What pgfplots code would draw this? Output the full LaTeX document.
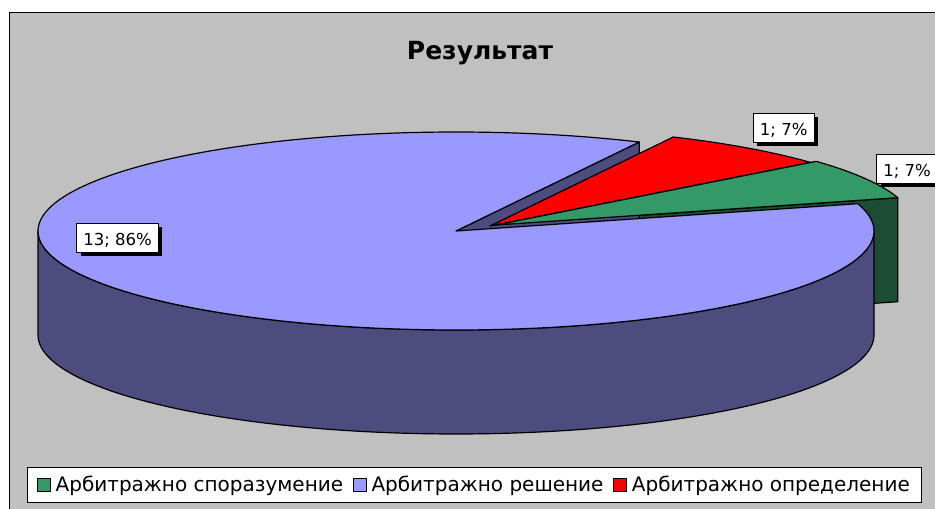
\documentclass[border=0pt]{standalone}
\usepackage{fontspec}
\setmainfont{DejaVu Sans}
\usepackage{pgfplots}
\usepackage{pgfplotstable}
\pgfplotsset{compat=1.18}
\usetikzlibrary{shadows}
\definecolor{bggray}{RGB}{192,192,192}
\definecolor{btop}{RGB}{153,153,255}
\definecolor{bside}{RGB}{76,76,127}
\definecolor{gtop}{RGB}{51,153,102}
\definecolor{gside}{RGB}{26,77,51}
\definecolor{rtop}{RGB}{255,0,0}
\definecolor{rside}{RGB}{128,0,0}

\pgfplotstableread{
label value
spor 1
resh 13
opr 1
}\pietable
\pgfplotstablegetelem{0}{value}\of\pietable \let\vG\pgfplotsretval
\pgfplotstablegetelem{1}{value}\of\pietable \let\vB\pgfplotsretval
\pgfplotstablegetelem{2}{value}\of\pietable \let\vR\pgfplotsretval
\pgfmathsetmacro\tot{\vG+\vB+\vR}
% geometry (pixel units, y up)
\def\cx{456}\def\cy{278}\def\ra{418}\def\rb{99}\def\dep{104}
\def\rdx{34}\def\rdy{5}\def\gdx{40}\def\gdy{6}
\pgfmathsetmacro\gE{40}
\pgfmathsetmacro\gS{\gE-360*\vG/\tot}
\pgfmathsetmacro\bS{\gS-360*\vB/\tot}
\pgfmathsetmacro\rS{\bS-360*\vR/\tot}
% green radial face at gS
\pgfmathsetmacro\gAx{\cx+\gdx}\pgfmathsetmacro\gAy{\cy+\gdy}
\pgfmathsetmacro\gBx{\gAx+\ra*cos(\gS)}\pgfmathsetmacro\gBy{\gAy+\rb*sin(\gS)}
\pgfmathsetmacro\gAyd{\gAy-\dep}\pgfmathsetmacro\gByd{\gBy-\dep}
% blue radial face at bS
\pgfmathsetmacro\bBx{\cx+\ra*cos(\bS)}\pgfmathsetmacro\bBy{\cy+\rb*sin(\bS)}
\pgfmathsetmacro\bAyd{\cy-\dep}\pgfmathsetmacro\bByd{\bBy-\dep}
% red radial face at rS
\pgfmathsetmacro\rAx{\cx+\rdx}\pgfmathsetmacro\rAy{\cy+\rdy}
\pgfmathsetmacro\rBx{\rAx+\ra*cos(\rS)}\pgfmathsetmacro\rBy{\rAy+\rb*sin(\rS)}
\pgfmathsetmacro\rAyd{\rAy-\dep}\pgfmathsetmacro\rByd{\rBy-\dep}

\begin{document}
\begin{tikzpicture}
\begin{axis}[
  at={(0,0)}, anchor=origin,
  width=935bp, height=509bp, scale only axis,
  xmin=0, xmax=935, ymin=0, ymax=509,
  xtick=\empty, ytick=\empty,
  hide axis, clip=true,
  declare function={ex(\t)=\cx+\ra*cos(\t); ey(\t)=\cy+\rb*sin(\t);},
  every axis plot/.append style={line width=1.2bp, line join=round},
  legend columns=3,
  legend image code/.code={\draw[#1,draw=black,line width=0.9bp] (0bp,-6.5bp) rectangle (13bp,6.5bp);},
  legend style={at={(0.5075,0.0481)}, anchor=center, draw=black, line width=1bp, fill=white,
    inner xsep=9.5bp, inner ysep=2bp,
    font=\fontsize{20bp}{24bp}\selectfont,
    /tikz/every odd column/.append style={column sep=2.5bp},
    /tikz/every even column/.append style={column sep=7.4bp},
    nodes={inner xsep=2.3bp, inner ysep=0pt, text height=22.8bp, text depth=8.2bp}},
  legend cell align=left,
]
% background
\fill[white] (axis cs:0,0) rectangle (axis cs:935,509);
\fill[bggray] (axis cs:9,-10) rectangle (axis cs:960,496);
\draw[black, line width=1bp] (axis cs:9,-10) -- (axis cs:9,496) -- (axis cs:960,496);
% title
\node[anchor=base, font=\bfseries\fontsize{25bp}{29bp}\selectfont] at (axis cs:480,449.7) {Результат};

% red radial face
\addplot[forget plot, fill=rside, draw=black] coordinates {(\rAx,\rAy) (\rBx,\rBy) (\rBx,\rByd) (\rAx,\rAyd)} -- cycle;
% green radial face
\addplot[forget plot, fill=gside, draw=black] coordinates {(\gAx,\gAy) (\gBx,\gBy) (\gBx,\gByd) (\gAx,\gAyd)} -- cycle;
% blue radial face
\addplot[forget plot, fill=bside, draw=black] coordinates {(\cx,\cy) (\bBx,\bBy) (\bBx,\bByd) (\cx,\bAyd)} -- cycle;
% blue outer wall (front half)
\addplot[forget plot, fill=bside, draw=black, domain=0:201, samples=202, variable=\s]
  ({ex(180+1.8*min(\s,201-\s))}, {ey(180+1.8*min(\s,201-\s)) - \dep*(\s>100.5)}) -- cycle;
% blue top
\addplot[forget plot, fill=btop, draw=black, domain=\bS:\gS, samples=180]
  ({ex(x)}, {ey(x)}) -- (axis cs:\cx,\cy) -- cycle;
% red top
\addplot[forget plot, fill=rtop, draw=black, domain=\rS:\bS, samples=25]
  ({ex(x)+\rdx}, {ey(x)+\rdy}) -- (axis cs:\rAx,\rAy) -- cycle;
% green top
\addplot[forget plot, fill=gtop, draw=black, domain=\gS:\gE, samples=25]
  ({ex(x)+\gdx}, {ey(x)+\gdy}) -- (axis cs:\gAx,\gAy) -- cycle;

% data labels
\tikzset{dlab/.style={draw=black, fill=white, line width=0.8bp,
  font=\fontsize{16.5bp}{20bp}\selectfont, inner xsep=6.5bp, inner ysep=2.9bp,
  text height=19.5bp, text depth=3.7bp,
  drop shadow={shadow xshift=4bp, shadow yshift=-4bp, fill=black, opacity=1}}}
\node[dlab] at (axis cs:117.5,271) {13; 86\%};
\node[dlab] at (axis cs:783.7,381.2) {1; 7\%};
\node[dlab] at (axis cs:907,340) {1; 7\%};

% legend
\addlegendimage{fill=gtop}
\addlegendentry{Арбитражно споразумение}
\addlegendimage{fill=btop}
\addlegendentry{Арбитражно решение}
\addlegendimage{fill=rtop}
\addlegendentry{Арбитражно определение}
\end{axis}
\pgfresetboundingbox
\useasboundingbox (0,0) rectangle (935bp,509bp);
\end{tikzpicture}
\end{document}
